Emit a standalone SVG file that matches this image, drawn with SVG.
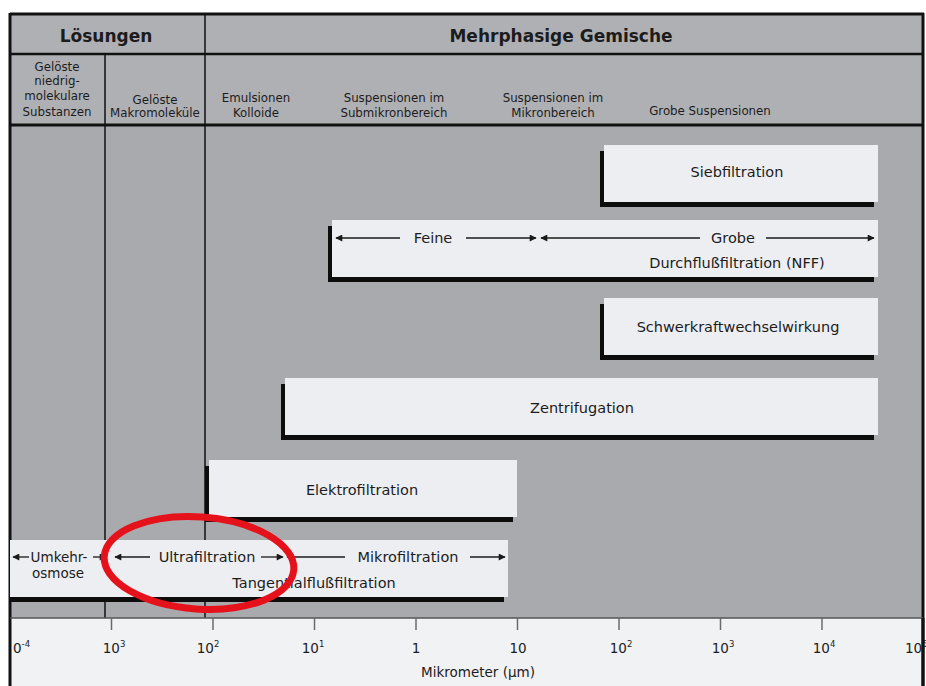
<svg xmlns="http://www.w3.org/2000/svg" width="926" height="686" viewBox="0 0 926 686">
<defs>
<marker id="ah" viewBox="0 0 10 10" refX="9" refY="5" markerWidth="8" markerHeight="7" markerUnits="userSpaceOnUse" orient="auto-start-reverse">
<path d="M0,0 L10,5 L0,10 z" fill="#1a1a1a"/>
</marker>
<style>
text{font-family:"DejaVu Sans","Liberation Sans",sans-serif;fill:#1c1c1c}
.hd{font-size:17px;font-weight:bold;text-anchor:middle}
.col{font-size:11.8px;text-anchor:middle}
.lbl{font-size:14.5px;text-anchor:middle}
.ax{font-size:13.5px;text-anchor:middle}
.axs{font-size:13.5px;text-anchor:start}
.sup{font-size:8.5px}
.box{fill:#eceef2}
.sh{fill:#0d0d0d}
.arr{stroke:#1a1a1a;stroke-width:1.3;fill:none;marker-end:url(#ah)}
.grid{stroke:#111;fill:none}
.tick{stroke:#6a6a6a;stroke-width:1.5}
</style>
</defs>
<rect x="0" y="0" width="926" height="686" fill="#ffffff"/>
<rect x="10" y="14" width="913" height="111" fill="#afb0b4"/>
<rect x="10" y="125" width="913" height="493" fill="#a9aaae"/>
<rect x="10" y="618" width="913" height="68" fill="#f1f2f4"/>
<g id="frame">
<line class="grid" x1="10" y1="14" x2="924" y2="14" stroke-width="3"/>
<line class="grid" x1="10" y1="13" x2="10" y2="686" stroke-width="3"/>
<line class="grid" x1="923" y1="13" x2="923" y2="686" stroke-width="3"/>
<line class="grid" x1="10" y1="54" x2="923" y2="54" stroke-width="2.5"/>
<line class="grid" x1="10" y1="125" x2="923" y2="125" stroke-width="3"/>
<line class="grid" x1="205" y1="14" x2="205" y2="618" stroke-width="1.5"/>
<line class="grid" x1="105" y1="54" x2="105" y2="618" stroke-width="1.5"/>
<line x1="10" y1="618" x2="923" y2="618" stroke="#555" stroke-width="1.5"/>
</g>
<g id="headers">
<text class="hd" x="106" y="42">Lösungen</text>
<text class="hd" x="561" y="42">Mehrphasige Gemische</text>
</g>
<g id="columns">
<text class="col" x="57" y="71">Gelöste</text>
<text class="col" x="57" y="85">niedrig-</text>
<text class="col" x="57" y="100">molekulare</text>
<text class="col" x="57" y="116">Substanzen</text>
<text class="col" x="155" y="104">Gelöste</text>
<text class="col" x="155" y="117">Makromoleküle</text>
<text class="col" x="256" y="102">Emulsionen</text>
<text class="col" x="256" y="117">Kolloide</text>
<text class="col" x="394" y="102">Suspensionen im</text>
<text class="col" x="394" y="117">Submikronbereich</text>
<text class="col" x="553" y="102">Suspensionen im</text>
<text class="col" x="553" y="117">Mikronbereich</text>
<text class="col" x="710" y="115">Grobe Suspensionen</text>
</g>
<g id="siebfiltration">
<rect class="sh" x="600" y="151" width="274" height="56"/>
<rect class="box" x="604" y="145" width="274" height="57"/>
<text class="lbl" x="737" y="177">Siebfiltration</text>
</g>
<g id="durchflussfiltration">
<rect class="sh" x="328" y="226" width="546" height="56"/>
<rect class="box" x="332" y="220" width="546" height="57"/>
<text class="lbl" x="433" y="243">Feine</text>
<text class="lbl" x="733" y="243">Grobe</text>
<text class="lbl" x="737" y="268">Durchflußfiltration (NFF)</text>
</g>
<g id="schwerkraftwechselwirkung">
<rect class="sh" x="600" y="304" width="274" height="56"/>
<rect class="box" x="604" y="298" width="274" height="57"/>
<text class="lbl" x="738" y="332">Schwerkraftwechselwirkung</text>
</g>
<g id="zentrifugation">
<rect class="sh" x="281" y="384" width="593" height="56"/>
<rect class="box" x="285" y="378" width="593" height="57"/>
<text class="lbl" x="582" y="413">Zentrifugation</text>
</g>
<g id="elektrofiltration">
<rect class="sh" x="205" y="466" width="308" height="56"/>
<rect class="box" x="209" y="460" width="308" height="57"/>
<text class="lbl" x="362" y="495">Elektrofiltration</text>
</g>
<g id="tangentialflussfiltration">
<rect class="sh" x="10" y="546" width="494" height="56"/>
<rect class="box" x="10" y="540" width="498" height="57"/>
<text class="lbl" x="59" y="562" style="font-size:13.5px">Umkehr-</text>
<text class="lbl" x="58" y="578" style="font-size:13.5px">osmose</text>
<text class="lbl" x="207" y="562">Ultrafiltration</text>
<text class="lbl" x="408" y="562">Mikrofiltration</text>
<text class="lbl" x="314" y="588">Tangentialflußfiltration</text>
</g>
<g id="connectors">
<line class="arr" x1="400" y1="238" x2="336" y2="238"/>
<line class="arr" x1="466" y1="238" x2="536" y2="238"/>
<line class="arr" x1="700" y1="238" x2="541" y2="238"/>
<line class="arr" x1="766" y1="238" x2="874" y2="238"/>
<line class="arr" x1="29" y1="557" x2="13" y2="557"/>
<line class="arr" x1="93" y1="557" x2="106" y2="557"/>
<line class="arr" x1="150" y1="557" x2="115" y2="557"/>
<line class="arr" x1="261" y1="557" x2="283" y2="557"/>
<line class="arr" x1="345" y1="557" x2="287" y2="557"/>
<line class="arr" x1="470" y1="557" x2="505" y2="557"/>
</g>
<g id="axis">
<line class="tick" x1="111.5" y1="618" x2="111.5" y2="630"/>
<line class="tick" x1="213" y1="618" x2="213" y2="630"/>
<line class="tick" x1="314.5" y1="618" x2="314.5" y2="630"/>
<line class="tick" x1="416" y1="618" x2="416" y2="630"/>
<line class="tick" x1="517.5" y1="618" x2="517.5" y2="630"/>
<line class="tick" x1="619" y1="618" x2="619" y2="630"/>
<line class="tick" x1="720.5" y1="618" x2="720.5" y2="630"/>
<line class="tick" x1="822" y1="618" x2="822" y2="630"/>
<text class="axs" x="13" y="653">0<tspan class="sup" dy="-6">-4</tspan></text>
<text class="ax" x="114" y="653">10<tspan class="sup" dy="-6">3</tspan></text>
<text class="ax" x="208" y="653">10<tspan class="sup" dy="-6">2</tspan></text>
<text class="ax" x="313" y="653">10<tspan class="sup" dy="-6">1</tspan></text>
<text class="ax" x="416" y="653">1</text>
<text class="ax" x="518" y="653">10</text>
<text class="ax" x="621" y="653">10<tspan class="sup" dy="-6">2</tspan></text>
<text class="ax" x="723" y="653">10<tspan class="sup" dy="-6">3</tspan></text>
<text class="ax" x="824" y="653">10<tspan class="sup" dy="-6">4</tspan></text>
<text class="axs" x="905" y="653">10<tspan class="sup" dy="-6">5</tspan></text>
<text class="col" x="478" y="677" style="font-size:13.5px">Mikrometer (µm)</text>
</g>
<line x1="923" y1="618" x2="923" y2="686" stroke="#111" stroke-width="3"/>
<g id="highlight">
<ellipse cx="199" cy="563" rx="95" ry="46" fill="none" stroke="#e5121c" stroke-width="7" transform="rotate(4 199 563)"/>
</g>
</svg>
